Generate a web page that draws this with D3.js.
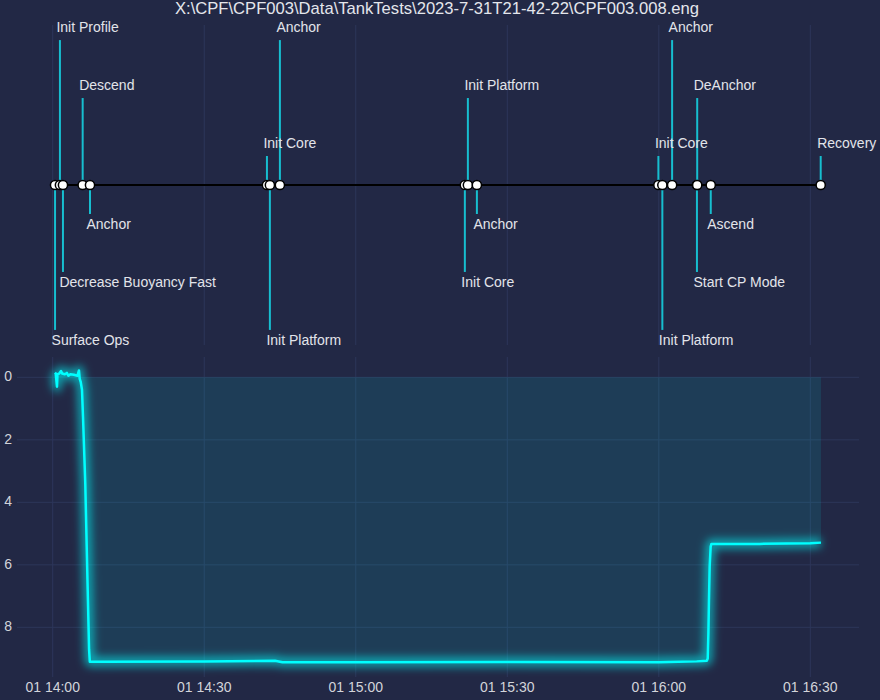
<!DOCTYPE html>
<html>
<head>
<meta charset="utf-8">
<script src="https://cdn.jsdelivr.net/npm/d3@7"></script>
<style>
  body { margin: 0; background: #222845; }
  svg { display: block; font-family: "Liberation Sans", Arial, sans-serif; }
  .grid line { stroke: #2d365a; stroke-width: 1; }
  .tick-label { fill: #d2d4da; font-size: 14px; }
  .event-label { fill: #e2e4ea; font-size: 14px; }
</style>
</head>
<body>
<div id="chart"></div>
<script>
const chartTitle = 'X:\\CPF\\CPF003\\Data\\TankTests\\2023-7-31T21-42-22\\CPF003.008.eng';
const day = '2023-08-01';

// events shown on the timeline
const eventNames = ['Surface Ops', 'Init Profile', 'Decrease Buoyancy Fast', 'Descend', 'Anchor',
  'Init Core', 'Init Platform', 'Anchor', 'Init Core', 'Init Platform', 'Anchor',
  'Init Core', 'Init Platform', 'Anchor', 'Start CP Mode', 'DeAnchor', 'Ascend', 'Recovery'];
const eventTimes = ['14:00:28', '14:01:26', '14:02:02', '14:05:56', '14:07:23',
  '14:42:25', '14:43:00', '14:44:59', '15:21:36', '15:22:12', '15:23:59',
  '15:59:55', '16:00:42', '16:02:38', '16:07:33', '16:07:36', '16:10:17', '16:32:03'];
const eventLevels = [-2.5, 2.5, -1.5, 1.5, -0.5, 0.5,
  -2.5, 2.5, -1.5, 1.5, -0.5, 0.5,
  -2.5, 2.5, -1.5, 1.5, -0.5, 0.5];

// depth record
const depthTimes = ['14:00:27', '14:00:36', '14:00:51', '14:00:57', '14:01:18', '14:01:39', '14:01:54',
  '14:02:24', '14:02:48', '14:03:06', '14:03:30', '14:04:12', '14:04:54', '14:05:12', '14:05:21',
  '14:05:33', '14:05:48', '14:06:00', '14:06:27', '14:06:54', '14:07:12', '14:07:21', '14:10:00',
  '14:30:00', '14:44:00', '14:45:30', '15:00:00', '15:30:00', '16:00:00', '16:02:00', '16:07:30',
  '16:09:30', '16:09:41', '16:09:49', '16:09:56', '16:10:04', '16:10:16', '16:10:25', '16:20:00',
  '16:30:00', '16:32:06'];
const depthValues = [-0.15, -0.12, 0.30, -0.10, -0.12, -0.20, -0.12,
  -0.10, -0.14, -0.05, -0.10, -0.08, -0.05, -0.22, 0.05,
  0.15, 0.40, 1.26, 3.40, 6.60, 8.70, 9.10, 9.10,
  9.09, 9.07, 9.12, 9.12, 9.11, 9.12, 9.11, 9.09,
  9.07, 9.00, 8.18, 7.10, 6.06, 5.42, 5.33, 5.33,
  5.31, 5.29];

const xDomain = ['13:52:56', '16:39:38'];
const depthDomain = [-0.65, 9.59];
const levelDomain = [-2.76, 2.76];
const depthTicks = [0, 2, 4, 6, 8];

const parseTime = d3.timeParse('%Y-%m-%d %H:%M:%S');
const toDate = s => parseTime(`${day} ${s}`);

const config = {
  width: 880,
  height: 700,
  plotLeft: 17,
  plotRight: 859,
  timeline: { y0: 25, y1: 345 },
  depth: { y0: 357, y1: 677 }
};

const events = eventNames.map((name, i) => ({ name, time: toDate(eventTimes[i]), level: eventLevels[i] }));
const depth = depthTimes.map((t, i) => ({ time: toDate(t), value: depthValues[i] }));

const svg = d3.select('#chart').append('svg')
  .attr('width', config.width)
  .attr('height', config.height);

// glow for the depth trace
const defs = svg.append('defs');
defs.append('filter')
    .attr('id', 'glow')
    .attr('x', '-20%').attr('y', '-20%')
    .attr('width', '140%').attr('height', '140%')
  .append('feGaussianBlur')
    .attr('stdDeviation', 4);

const x = d3.scaleTime()
  .domain(xDomain.map(toDate))
  .range([config.plotLeft, config.plotRight]);

const yLevel = d3.scaleLinear()
  .domain(levelDomain)
  .range([config.timeline.y1, config.timeline.y0]);

const yDepth = d3.scaleLinear()
  .domain(depthDomain)
  .range([config.depth.y0, config.depth.y1]);

const xTicks = x.ticks(d3.timeMinute.every(30));
const fmt = d3.timeFormat('%d %H:%M');

svg.append('text')
  .attr('x', 437)
  .attr('y', 10)
  .attr('text-anchor', 'middle')
  .attr('dominant-baseline', 'middle')
  .attr('fill', '#e4e6ec')
  .style('font-size', '16.6px')
  .text(chartTitle);

// ---- timeline panel
const timelineG = svg.append('g');

timelineG.append('g').attr('class', 'grid')
  .selectAll('line')
  .data(xTicks)
  .join('line')
    .attr('x1', d => x(d)).attr('x2', d => x(d))
    .attr('y1', config.timeline.y0).attr('y2', config.timeline.y1);

timelineG.append('g')
  .selectAll('line')
  .data(events)
  .join('line')
    .attr('x1', d => x(d.time)).attr('x2', d => x(d.time))
    .attr('y1', yLevel(0))
    .attr('y2', d => yLevel(d.level))
    .attr('stroke', '#17becf')
    .attr('stroke-width', 2);

timelineG.append('line')
  .attr('x1', x(events[0].time))
  .attr('x2', x(events[events.length - 1].time))
  .attr('y1', yLevel(0)).attr('y2', yLevel(0))
  .attr('stroke', '#000')
  .attr('stroke-width', 2);

timelineG.append('g')
  .selectAll('circle')
  .data(events)
  .join('circle')
    .attr('cx', d => x(d.time))
    .attr('cy', yLevel(0))
    .attr('r', 4.6)
    .attr('fill', '#fff')
    .attr('stroke', '#000')
    .attr('stroke-width', 1.5);

timelineG.append('g')
  .selectAll('text')
  .data(events)
  .join('text')
    .attr('class', 'event-label')
    .attr('x', d => x(d.time) - 3.5)
    .attr('y', d => yLevel(d.level) + (d.level > 0 ? -12 : 11))
    .attr('dominant-baseline', 'middle')
    .text(d => d.name);

// ---- depth panel
const depthG = svg.append('g');

depthG.append('g').attr('class', 'grid')
  .selectAll('line')
  .data(xTicks)
  .join('line')
    .attr('x1', d => x(d)).attr('x2', d => x(d))
    .attr('y1', config.depth.y0).attr('y2', config.depth.y1);

depthG.append('g').attr('class', 'grid')
  .selectAll('line')
  .data(depthTicks)
  .join('line')
    .attr('x1', config.plotLeft).attr('x2', config.plotRight)
    .attr('y1', d => yDepth(d)).attr('y2', d => yDepth(d));

const area = d3.area()
  .x(d => x(d.time))
  .y0(yDepth(0))
  .y1(d => yDepth(d.value));

const line = d3.line()
  .x(d => x(d.time))
  .y(d => yDepth(d.value));

depthG.append('path')
  .datum(depth)
  .attr('d', area)
  .attr('fill', 'rgba(0,255,255,0.1)');

depthG.append('path')
  .datum(depth)
  .attr('d', line)
  .attr('fill', 'none')
  .attr('stroke', '#00ffff')
  .attr('stroke-opacity', 0.55)
  .attr('stroke-width', 10)
  .attr('stroke-linejoin', 'round')
  .attr('filter', 'url(#glow)');

depthG.append('path')
  .datum(depth)
  .attr('d', line)
  .attr('fill', 'none')
  .attr('stroke', '#00ffff')
  .attr('stroke-width', 2.5)
  .attr('stroke-linejoin', 'round');

depthG.append('g')
  .selectAll('text')
  .data(depthTicks)
  .join('text')
    .attr('class', 'tick-label')
    .attr('x', 12)
    .attr('y', d => yDepth(d))
    .attr('text-anchor', 'end')
    .attr('dominant-baseline', 'middle')
    .text(d => d);

depthG.append('g')
  .selectAll('text')
  .data(xTicks)
  .join('text')
    .attr('class', 'tick-label')
    .attr('x', d => x(d))
    .attr('y', 688)
    .attr('text-anchor', 'middle')
    .attr('dominant-baseline', 'middle')
    .text(d => fmt(d));
</script>
</body>
</html>
